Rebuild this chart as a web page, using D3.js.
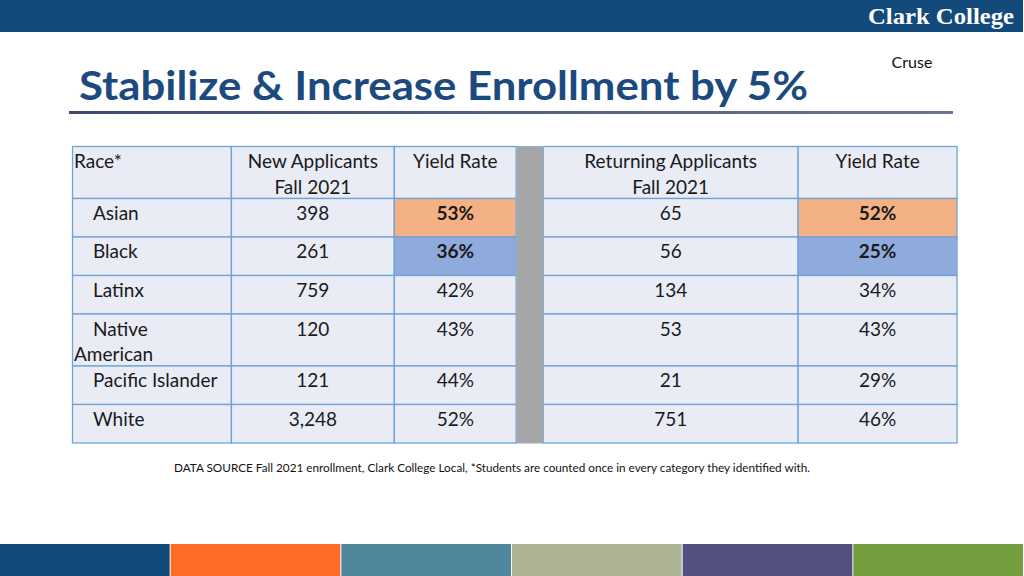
<!DOCTYPE html>
<html><head><meta charset="utf-8">
<script src="https://cdn.jsdelivr.net/npm/d3@7"></script>
<style>html,body{margin:0;padding:0;background:#fff;}svg{display:block;}</style>
</head><body>
<svg id="chart" width="1024" height="576"></svg>
<script>
// ---- data ----
const title = "Stabilize & Increase Enrollment by 5%";
const brand = "Clark College";
const presenter = "Cruse";
const footnote = "DATA SOURCE Fall 2021 enrollment, Clark College Local, *Students are counted once in every category they identified with.";
const headers = [["Race*"], ["New Applicants", "Fall 2021"], ["Yield Rate"], [""], ["Returning Applicants", "Fall 2021"], ["Yield Rate"]];
const races = [["Asian"], ["Black"], ["Latinx"], ["Native", "American"], ["Pacific Islander"], ["White"]];
const newApplicants = ["398", "261", "759", "120", "121", "3,248"];
const newYield = ["53%", "36%", "42%", "43%", "44%", "52%"];
const returningApplicants = ["65", "56", "134", "53", "21", "751"];
const returningYield = ["52%", "25%", "34%", "43%", "29%", "46%"];
const highlight = ["high", "low", null, null, null, null];
const colUnits = [159, 163, 122, 27, 255, 159];
const bottomColors = ["#134a7c", "#fd6b24", "#4f879c", "#adb395", "#534f81", "#749d3e"];

// ---- setup ----
const svg = d3.select("#chart");
const FONT = "Lato, 'Noto Sans', sans-serif";
const defs = svg.append("defs");
const grad = defs.append("linearGradient").attr("id", "ul").attr("x1", 0).attr("x2", 1);
grad.append("stop").attr("offset", 0).attr("stop-color", "#3f4b6e");
grad.append("stop").attr("offset", 1).attr("stop-color", "#6a7598");

// top bar
svg.append("rect").attr("x", 0).attr("y", 0).attr("width", 1023).attr("height", 32).attr("fill", "#134a7c");
svg.append("text").attr("x", 1014).attr("y", 24).attr("text-anchor", "end")
  .attr("font-family", "'Liberation Serif', 'DejaVu Serif', serif").attr("font-weight", "bold")
  .attr("font-size", 24).attr("fill", "#fff").attr("textLength", 146).attr("lengthAdjust", "spacingAndGlyphs").text(brand);

svg.append("text").attr("x", 912).attr("y", 68).attr("text-anchor", "middle")
  .attr("font-family", FONT).attr("font-size", 16).attr("fill", "#111").text(presenter);

// title
svg.append("text").attr("x", 79).attr("y", 100).attr("font-family", FONT).attr("font-weight", "bold")
  .attr("font-size", 40).attr("fill", "#1c4a7e").attr("textLength", 729).attr("lengthAdjust", "spacingAndGlyphs").text(title);
svg.append("rect").attr("x", 69).attr("y", 111).attr("width", 884).attr("height", 3).attr("fill", "url(#ul)");

// ---- table ----
const rowsLines = [headers.map(h => h.length).reduce((a, b) => Math.max(a, b))].concat(races.map(r => r.length));
const rowUnits = rowsLines.map(n => n > 1 ? 1.35 : 1);
const rowCum = [0]; rowUnits.forEach(u => rowCum.push(rowCum[rowCum.length - 1] + u));
const colCum = [0]; colUnits.forEach(u => colCum.push(colCum[colCum.length - 1] + u));
const y = d3.scaleLinear().domain([0, rowCum[rowCum.length - 1]]).range([146.5, 443]);
const x = d3.scaleLinear().domain([0, colCum[colCum.length - 1]]).range([72.5, 957]);

const cells = [];
headers.forEach((h, c) => cells.push({ r: 0, c, lines: h, bold: false, hl: null, align: c === 0 ? "left" : "middle" }));
races.forEach((race, i) => {
  const r = i + 1;
  cells.push({ r, c: 0, lines: race, bold: false, hl: null, align: "left", indent: true });
  cells.push({ r, c: 1, lines: [newApplicants[i]], bold: false, hl: null, align: "middle" });
  cells.push({ r, c: 2, lines: [newYield[i]], bold: !!highlight[i], hl: highlight[i], align: "middle" });
  cells.push({ r, c: 3, lines: [""], gap: true });
  cells.push({ r, c: 4, lines: [returningApplicants[i]], bold: false, hl: null, align: "middle" });
  cells.push({ r, c: 5, lines: [returningYield[i]], bold: !!highlight[i], hl: highlight[i], align: "middle" });
});
const fillOf = d => d.c === 3 ? "#a6a6a6" : d.hl === "high" ? "#f4b183" : d.hl === "low" ? "#8faadc" : "#e9ebf5";

const g = svg.append("g");
g.selectAll("rect.cell").data(cells.filter(d => d.c !== 3)).join("rect").attr("class", "cell")
  .attr("x", d => x(colCum[d.c])).attr("y", d => y(rowCum[d.r]))
  .attr("width", d => x(colCum[d.c + 1]) - x(colCum[d.c])).attr("height", d => y(rowCum[d.r + 1]) - y(rowCum[d.r]))
  .attr("fill", fillOf).attr("stroke", "#6fa3d8").attr("stroke-width", 1.3);
// gap column
g.append("rect").attr("x", x(colCum[3])).attr("y", y(0)).attr("width", x(colCum[4]) - x(colCum[3]))
  .attr("height", y(rowCum[rowCum.length - 1]) - y(0)).attr("fill", "#a6a6a6").attr("stroke", "#8fb0d6").attr("stroke-width", 1);

const textCells = cells.filter(d => d.c !== 3);
const tg = g.selectAll("text.cell").data(textCells).join("text").attr("class", "cell")
  .attr("font-family", FONT).attr("font-size", 19).attr("fill", "#1a1a1a")
  .attr("font-weight", d => d.bold ? "bold" : "normal")
  .attr("text-anchor", d => d.align === "left" ? "start" : "middle");
tg.each(function (d) {
  const t = d3.select(this);
  const top = y(rowCum[d.r]);
  d.lines.forEach((ln, k) => {
    const xx = d.align === "left" ? x(colCum[d.c]) + 1.5 + (d.indent && k === 0 ? 19 : 0)
      : (x(colCum[d.c]) + x(colCum[d.c + 1])) / 2;
    t.append("tspan").attr("x", xx).attr("y", top + 21.5 + k * 25.5).text(ln);
  });
});

// footnote
svg.append("text").attr("x", 174).attr("y", 472).attr("font-family", FONT).attr("font-size", 11)
  .attr("fill", "#111").attr("textLength", 636).attr("lengthAdjust", "spacingAndGlyphs").text(footnote);

// bottom bar
const bx = d3.scaleBand().domain(d3.range(bottomColors.length)).range([0, 1024]);
svg.selectAll("rect.bb").data(bottomColors).join("rect").attr("class", "bb")
  .attr("x", (d, i) => bx(i)).attr("y", 544).attr("width", bx.bandwidth() - 1).attr("height", 32).attr("fill", d => d);
</script>
</body></html>
